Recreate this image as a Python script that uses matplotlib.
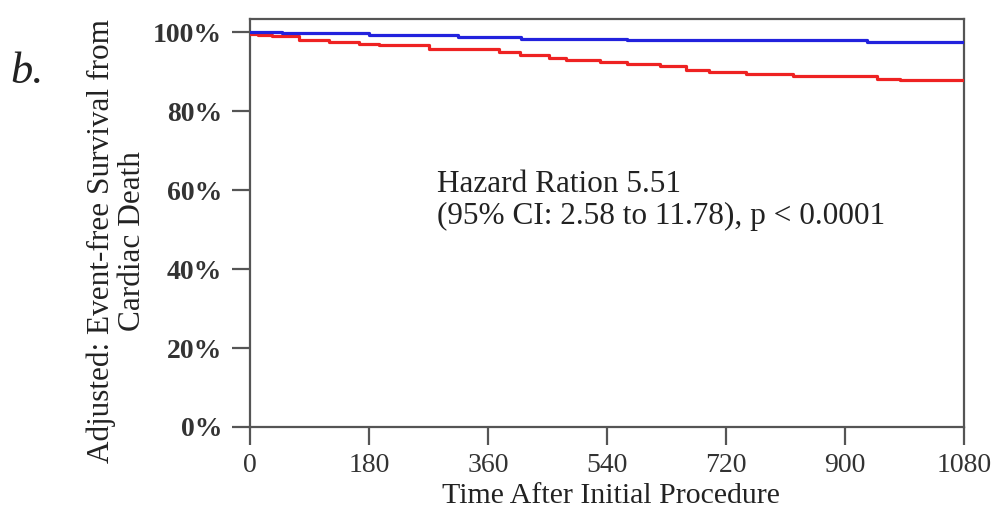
import matplotlib
matplotlib.use("Agg")
import matplotlib.pyplot as plt
from matplotlib.ticker import FuncFormatter

# Data
blue_days = [0, 48, 180, 314, 410, 571, 933, 1080]
blue_surv = [1.000, 0.997, 0.992, 0.988, 0.983, 0.980, 0.975, 0.975]

red_days = [0, 12, 33, 74, 120, 165, 195, 271, 377, 408, 453, 478, 529, 571,
            620, 660, 695, 751, 821, 948, 983, 1080]
red_surv = [0.996, 0.992, 0.989, 0.980, 0.976, 0.970, 0.966, 0.958, 0.950,
            0.941, 0.935, 0.929, 0.925, 0.918, 0.914, 0.905, 0.900, 0.895,
            0.888, 0.882, 0.878, 0.878]

x_ticks = [0, 180, 360, 540, 720, 900, 1080]
y_ticks = [0.0, 0.2, 0.4, 0.6, 0.8, 1.0]

annotation = "Hazard Ration 5.51\n(95% CI: 2.58 to 11.78), p < 0.0001"
y_label = "Adjusted: Event-free Survival from\nCardiac Death"
x_label = "Time After Initial Procedure"
panel = "b."

serif = ["Liberation Serif", "DejaVu Serif"]
plt.rcParams['font.family'] = serif

fig = plt.figure(figsize=(9.93, 5.12), dpi=100)
ax = fig.add_axes([250/993, 1-427/512, (964-250)/993, (427-19)/512])

ax.plot(red_days, red_surv, drawstyle='steps-post', color='#ee2222', lw=2.3, zorder=3)
ax.plot(blue_days, blue_surv, drawstyle='steps-post', color='#2222dd', lw=2.3, zorder=4)

ax.set_xlim(0, 1080)
ax.set_ylim(0, 1.033)
ax.set_xticks(x_ticks)
ax.set_yticks(y_ticks)
ax.yaxis.set_major_formatter(FuncFormatter(lambda v, p: f"{int(round(v*100))}%"))

for s in ax.spines.values():
    s.set_color('#555555')
    s.set_linewidth(1.6)
ax.tick_params(axis='both', length=13, width=1.6, color='#555555', direction='out',
               labelcolor='#333333')
ax.tick_params(axis='y', pad=7, labelsize=20)
ax.tick_params(axis='x', pad=6, labelsize=20)
for lab in ax.get_yticklabels():
    lab.set_fontweight('bold')

fig.text(437/993, 1-170/512, annotation, ha='left', va='top', fontsize=22.5,
         linespacing=1.15, color='#222222')
fig.text(117/993, 1-241/512, y_label, ha='center', va='center', rotation=90,
         fontsize=22.5, linespacing=1.1, multialignment='center', color='#222222')
fig.text(611/993, 1-496/512, x_label, ha='center', va='center', fontsize=21.5,
         color='#222222')
fig.text(10/993, 1-72/512, panel, ha='left', va='center', fontsize=32,
         style='italic', color='#222222')

fig.savefig("out.png", dpi=100, facecolor='white')
